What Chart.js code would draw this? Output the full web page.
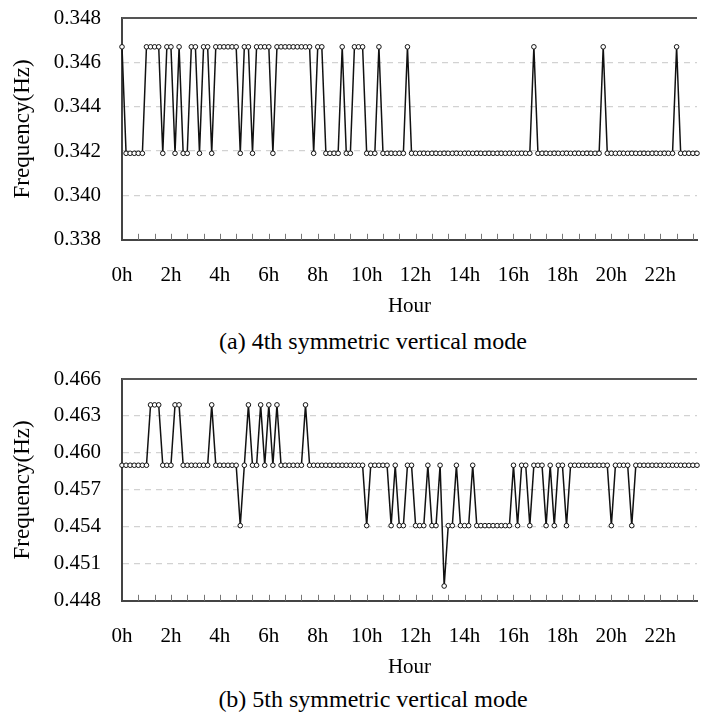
<!DOCTYPE html>
<html>
<head>
<meta charset="utf-8">
<script src="https://cdn.jsdelivr.net/npm/chart.js@4.4.1/dist/chart.umd.min.js"></script>
<style>
  html, body { margin: 0; padding: 0; background: #fff; }
  .panel { position: absolute; left: 0; width: 702px; height: 317px; }
  #p1 { top: 0; }
  #p2 { top: 361px; }
  .caption {
    position: absolute; left: 0; width: 746px; text-align: center;
    font: 24px/24px 'Liberation Serif', serif; color: #000; white-space: nowrap;
  }
  #c1 { top: 329px; }
  #c2 { top: 687px; }
</style>
</head>
<body>
<div class="panel" id="p1"><canvas id="mode4"></canvas></div>
<div class="caption" id="c1">(a) 4th symmetric vertical mode</div>
<div class="panel" id="p2"><canvas id="mode5"></canvas></div>
<div class="caption" id="c2">(b) 5th symmetric vertical mode</div>
<script>
// 10-minute samples from 0h; the picture is cut off a little after 23h20
const slots = Array.from({ length: 142 }, (_, i) => i * 10);
const hourLabels = ['0h', '2h', '4h', '6h', '8h', '10h', '12h', '14h', '16h', '18h', '20h', '22h'];

// (a) 4th symmetric vertical mode, Hz
const mode4 = [
  0.3467, 0.3419, 0.3419, 0.3419, 0.3419, 0.3419, 0.3467, 0.3467, 0.3467, 0.3467, 0.3419, 0.3467,
  0.3467, 0.3419, 0.3467, 0.3419, 0.3419, 0.3467, 0.3467, 0.3419, 0.3467, 0.3467, 0.3419, 0.3467,
  0.3467, 0.3467, 0.3467, 0.3467, 0.3467, 0.3419, 0.3467, 0.3467, 0.3419, 0.3467, 0.3467, 0.3467,
  0.3467, 0.3419, 0.3467, 0.3467, 0.3467, 0.3467, 0.3467, 0.3467, 0.3467, 0.3467, 0.3467, 0.3419,
  0.3467, 0.3467, 0.3419, 0.3419, 0.3419, 0.3419, 0.3467, 0.3419, 0.3419, 0.3467, 0.3467, 0.3467,
  0.3419, 0.3419, 0.3419, 0.3467, 0.3419, 0.3419, 0.3419, 0.3419, 0.3419, 0.3419, 0.3467, 0.3419,
  0.3419, 0.3419, 0.3419, 0.3419, 0.3419, 0.3419, 0.3419, 0.3419, 0.3419, 0.3419, 0.3419, 0.3419,
  0.3419, 0.3419, 0.3419, 0.3419, 0.3419, 0.3419, 0.3419, 0.3419, 0.3419, 0.3419, 0.3419, 0.3419,
  0.3419, 0.3419, 0.3419, 0.3419, 0.3419, 0.3467, 0.3419, 0.3419, 0.3419, 0.3419, 0.3419, 0.3419,
  0.3419, 0.3419, 0.3419, 0.3419, 0.3419, 0.3419, 0.3419, 0.3419, 0.3419, 0.3419, 0.3467, 0.3419,
  0.3419, 0.3419, 0.3419, 0.3419, 0.3419, 0.3419, 0.3419, 0.3419, 0.3419, 0.3419, 0.3419, 0.3419,
  0.3419, 0.3419, 0.3419, 0.3419, 0.3467, 0.3419, 0.3419, 0.3419, 0.3419, 0.3419
];

// (b) 5th symmetric vertical mode, Hz
const mode5 = [
  0.4590, 0.4590, 0.4590, 0.4590, 0.4590, 0.4590, 0.4590, 0.4639, 0.4639, 0.4639, 0.4590, 0.4590,
  0.4590, 0.4639, 0.4639, 0.4590, 0.4590, 0.4590, 0.4590, 0.4590, 0.4590, 0.4590, 0.4639, 0.4590,
  0.4590, 0.4590, 0.4590, 0.4590, 0.4590, 0.4541, 0.4590, 0.4639, 0.4590, 0.4590, 0.4639, 0.4590,
  0.4639, 0.4590, 0.4639, 0.4590, 0.4590, 0.4590, 0.4590, 0.4590, 0.4590, 0.4639, 0.4590, 0.4590,
  0.4590, 0.4590, 0.4590, 0.4590, 0.4590, 0.4590, 0.4590, 0.4590, 0.4590, 0.4590, 0.4590, 0.4590,
  0.4541, 0.4590, 0.4590, 0.4590, 0.4590, 0.4590, 0.4541, 0.4590, 0.4541, 0.4541, 0.4590, 0.4590,
  0.4541, 0.4541, 0.4541, 0.4590, 0.4541, 0.4541, 0.4590, 0.4492, 0.4541, 0.4541, 0.4590, 0.4541,
  0.4541, 0.4541, 0.4590, 0.4541, 0.4541, 0.4541, 0.4541, 0.4541, 0.4541, 0.4541, 0.4541, 0.4541,
  0.4590, 0.4541, 0.4590, 0.4590, 0.4541, 0.4590, 0.4590, 0.4590, 0.4541, 0.4590, 0.4541, 0.4590,
  0.4590, 0.4541, 0.4590, 0.4590, 0.4590, 0.4590, 0.4590, 0.4590, 0.4590, 0.4590, 0.4590, 0.4590,
  0.4541, 0.4590, 0.4590, 0.4590, 0.4590, 0.4541, 0.4590, 0.4590, 0.4590, 0.4590, 0.4590, 0.4590,
  0.4590, 0.4590, 0.4590, 0.4590, 0.4590, 0.4590, 0.4590, 0.4590, 0.4590, 0.4590
];

const serif = { family: 'Liberation Serif', size: 21 };
Chart.defaults.font.family = 'Liberation Serif';
Chart.defaults.color = '#000';

// top frame line + small inward tick marks on the hour axis
const framePlugin = {
  id: 'frame',
  afterDatasetsDraw(chart) {
    const { ctx, chartArea, scales } = chart;
    const x = scales.x;
    ctx.save();
    ctx.strokeStyle = '#555';
    ctx.lineWidth = 2;
    ctx.beginPath();
    ctx.moveTo(chartArea.left, chartArea.top);
    ctx.lineTo(chartArea.right, chartArea.top);
    ctx.stroke();
    ctx.strokeStyle = '#777';
    ctx.lineWidth = 1;
    ctx.beginPath();
    for (let i = 4; i < slots.length; i += 4) {
      const px = Math.round(x.getPixelForTick(i)) + 0.5;
      ctx.moveTo(px, chartArea.bottom);
      ctx.lineTo(px, chartArea.bottom - 6);
    }
    ctx.stroke();
    ctx.restore();
  }
};

function makeChart(id, values, yMin, yMax, yStep) {
  const ctx = document.getElementById(id).getContext('2d');
  return new Chart(ctx, {
    type: 'line',
    data: {
      labels: slots,
      datasets: [{
        data: values,
        borderColor: '#111',
        borderWidth: 1.5,
        pointRadius: 2.3,
        pointBorderWidth: 1,
        pointBackgroundColor: '#fff',
        pointBorderColor: '#111',
        tension: 0
      }]
    },
    options: {
      responsive: true,
      maintainAspectRatio: false,
      animation: false,
      layout: { padding: { top: 18, right: 0, left: 0, bottom: 0 } },
      plugins: {
        legend: { display: false },
        tooltip: { enabled: false },
        title: { display: false }
      },
      scales: {
        x: {
          type: 'category',
          offset: false,
          grid: { display: true, drawOnChartArea: false, drawTicks: true, tickLength: 23, tickColor: 'rgba(0,0,0,0)' },
          border: { display: true, color: '#444', width: 2 },
          ticks: {
            autoSkip: false,
            maxRotation: 0,
            padding: 0,
            font: serif,
            callback: (v, i) => (i % 12 === 0 ? hourLabels[i / 12] : '')
          },
          title: {
            display: true, text: 'Hour',
            font: { family: 'Liberation Serif', size: 21, lineHeight: 1 },
            padding: { top: 8, bottom: 0 }
          }
        },
        y: {
          min: yMin,
          max: yMax,
          grid: {
            drawTicks: true,
            tickLength: 21,
            tickColor: 'rgba(0,0,0,0)',
            color: c => (c.index === 0 || c.tick.value >= yMax - 1e-9 ? 'rgba(0,0,0,0)' : '#d2d2d2'),
            lineWidth: 1.3
          },
          border: { display: true, color: '#444', width: 2, dash: [6, 5] },
          ticks: {
            stepSize: yStep,
            padding: 0,
            font: serif,
            callback: v => v.toFixed(3)
          },
          title: {
            display: true, text: 'Frequency(Hz)',
            font: { family: 'Liberation Serif', size: 23 },
            padding: { top: 9, bottom: 0 }
          },
          afterFit: s => { s.width = 122; }
        }
      }
    },
    plugins: [framePlugin]
  });
}

makeChart('mode4', mode4, 0.338, 0.348, 0.002);
makeChart('mode5', mode5, 0.448, 0.466, 0.003);
</script>
</body>
</html>
